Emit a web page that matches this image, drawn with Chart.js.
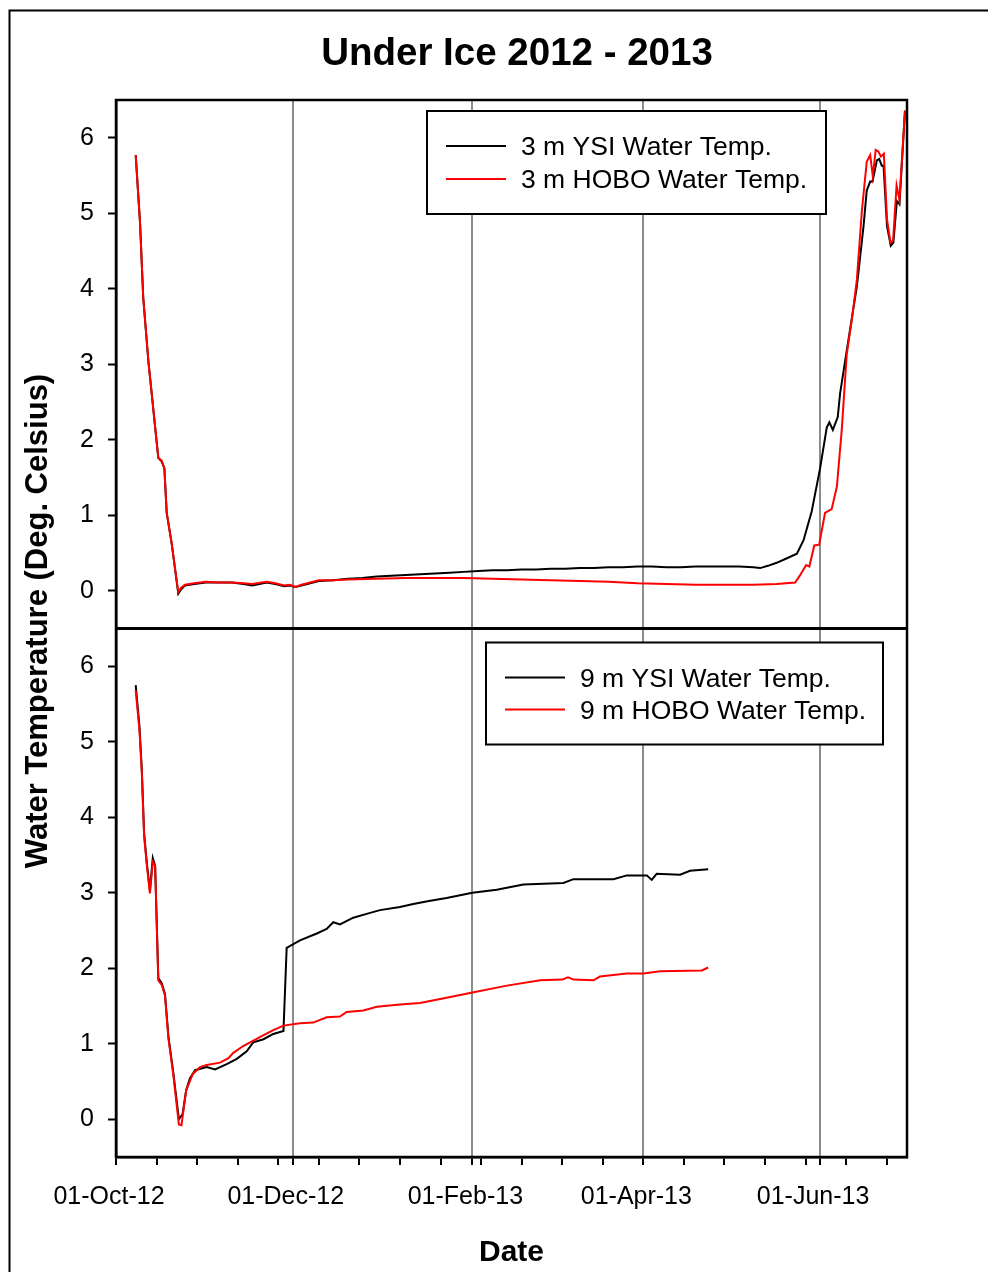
<!DOCTYPE html>
<html>
<head>
<meta charset="utf-8">
<title>Under Ice 2012 - 2013</title>
<script src="https://cdn.jsdelivr.net/npm/chart.js@4.4.1/dist/chart.umd.min.js"></script>
<style>
  html, body { margin: 0; padding: 0; background: #fff; }
  #grafica { display: block; }
</style>
</head>
<body>
<canvas id="grafica" width="988" height="1272"></canvas>
<script>
// Eje X: dias desde el 01-Oct-12
const majorDays = [0, 61, 123, 182, 243];
const majorLabels = ['01-Oct-12', '01-Dec-12', '01-Feb-13', '01-Apr-13', '01-Jun-13'];
const minorStep = 14;
const yTicks = [0, 1, 2, 3, 4, 5, 6];

// 3 m YSI
const ysi3Days = [
  6.8, 8.3, 9.4, 11.2, 14.6, 15.8, 16.7, 17.5, 19.2, 21.5,
  22.5, 23.8, 27, 31, 35, 40, 44, 47, 52, 55,
  58, 60, 62, 64, 67, 70, 75, 80, 85, 90,
  95, 100, 105, 110, 115, 120, 125, 130, 135, 140,
  145, 150, 155, 160, 165, 170, 175, 180, 185, 190,
  195, 200, 205, 210, 215, 220, 222.3, 225, 228, 231,
  235, 237.3, 240.1, 243, 245.3, 246.2, 247.4, 249.1, 249.9, 252.2,
  255.7, 258, 259.1, 260.3, 261.1, 262.6, 263.4, 264.3, 264.9, 266.1,
  267.4, 268.3, 269.5, 270.4, 272.3
];
const ysi3Temp = [
  5.77, 4.87, 3.88, 3.03, 1.76, 1.71, 1.62, 1.03, 0.63, -0.04,
  0.02, 0.07, 0.09, 0.11, 0.11, 0.11, 0.09, 0.07, 0.11, 0.09,
  0.06, 0.07, 0.05, 0.07, 0.10, 0.13, 0.14, 0.16, 0.17, 0.19,
  0.20, 0.21, 0.22, 0.23, 0.24, 0.25, 0.26, 0.27, 0.27, 0.28,
  0.28, 0.29, 0.29, 0.30, 0.30, 0.31, 0.31, 0.32, 0.32, 0.31,
  0.31, 0.32, 0.32, 0.32, 0.32, 0.31, 0.30, 0.33, 0.37, 0.42,
  0.49, 0.67, 1.05, 1.62, 2.16, 2.23, 2.13, 2.30, 2.61, 3.18,
  4.03, 4.83, 5.30, 5.42, 5.42, 5.70, 5.72, 5.63, 5.63, 4.83,
  4.57, 4.61, 5.16, 5.12, 6.36
];

// 3 m HOBO
const hobo3Days = [
  6.8, 8.3, 9.4, 11.2, 14.6, 15.8, 16.7, 17.5, 19.2, 21.5,
  22.5, 23.8, 27, 31, 35, 40, 44, 47, 52, 55,
  58, 60, 62, 64, 67, 70, 75, 80, 90, 100,
  110, 120, 130, 140, 150, 160, 170, 180, 190, 200,
  210, 220, 228, 234.4, 236, 238.2, 239.3, 241, 242.7, 244.7,
  247, 248.8, 250.5, 252.2, 254, 255.7, 257.4, 259.1, 260.3, 261.2,
  262.2, 263.1, 264, 265, 266.1, 267.3, 268.2, 269.4, 270.4, 272.3
];
const hobo3Temp = [
  5.77, 4.87, 3.88, 3.03, 1.76, 1.72, 1.62, 1.03, 0.63, -0.02,
  0.04, 0.08, 0.10, 0.12, 0.11, 0.11, 0.10, 0.09, 0.12, 0.10,
  0.07, 0.08, 0.05, 0.08, 0.11, 0.14, 0.14, 0.15, 0.16, 0.17,
  0.17, 0.17, 0.16, 0.15, 0.14, 0.13, 0.12, 0.10, 0.09, 0.08,
  0.08, 0.08, 0.09, 0.11, 0.20, 0.34, 0.32, 0.60, 0.61, 1.03,
  1.08, 1.38, 2.14, 3.13, 3.60, 4.12, 5.02, 5.68, 5.77, 5.49,
  5.84, 5.82, 5.75, 5.79, 4.92, 4.61, 4.64, 5.37, 5.18, 6.36
];

// 9 m YSI
const ysi9Days = [
  6.8, 8.1, 8.9, 9.7, 10.6, 11.7, 12.7, 13.5, 14.6, 15.8,
  16.9, 18.1, 19.8, 21.7, 23, 24.2, 25.5, 27.3, 31.3, 34.2,
  38.2, 41.7, 45.1, 47.4, 50.9, 54.3, 57.8, 58.9, 63.5, 69.3,
  72.7, 75, 77.3, 81.9, 86.5, 91.1, 98, 102.6, 108, 114.1,
  123, 131.4, 140.6, 154.4, 157.9, 171.7, 176.3, 183.2, 184.9, 186.6,
  194.7, 198.1, 204.4
];
const ysi9Temp = [
  5.75, 5.2, 4.64, 3.79, 3.41, 3.03, 3.46, 3.36, 1.87, 1.80,
  1.66, 1.09, 0.61, 0.00, 0.07, 0.38, 0.54, 0.65, 0.69, 0.66,
  0.73, 0.80, 0.90, 1.02, 1.06, 1.13, 1.17, 2.27, 2.37, 2.46,
  2.52, 2.61, 2.58, 2.67, 2.72, 2.77, 2.81, 2.85, 2.89, 2.93,
  3.00, 3.04, 3.11, 3.13, 3.18, 3.18, 3.23, 3.23, 3.17, 3.25,
  3.24, 3.29, 3.31
];

// 9 m HOBO
const hobo9Days = [
  6.8, 8.1, 8.9, 9.7, 10.6, 11.7, 12.7, 13.5, 14.6, 15.8,
  16.9, 18.1, 19.8, 21.7, 22.6, 24.2, 26.5, 29, 31.3, 35.9,
  38.8, 40.5, 43.9, 47.4, 50.8, 54.3, 57.8, 63.5, 68.1, 72.7,
  77.3, 79.6, 85.4, 90, 98, 104.9, 114.1, 123, 134.9, 146.4,
  154, 156, 158, 164.8, 167, 176.3, 182, 187.8, 202.2, 204.4
];
const hobo9Temp = [
  5.68, 5.15, 4.6, 3.75, 3.38, 2.99, 3.41, 3.36, 1.84, 1.78,
  1.64, 1.07, 0.58, -0.07, -0.08, 0.38, 0.60, 0.69, 0.72, 0.75,
  0.81, 0.88, 0.97, 1.04, 1.11, 1.18, 1.24, 1.27, 1.28, 1.35,
  1.36, 1.42, 1.44, 1.49, 1.52, 1.54, 1.61, 1.68, 1.77, 1.84,
  1.85, 1.88, 1.85, 1.84, 1.89, 1.93, 1.93, 1.96, 1.97, 2.01
];

const puntos = (dias, temps) => dias.map((d, i) => ({ x: d, y: temps[i] }));

// marcas del eje X: mayores (1 de mes) y menores (cada 14 dias)
const xTicks = [];
for (let d = 0; d <= 273; d += minorStep) xTicks.push(d);
majorDays.forEach(d => { if (!xTicks.includes(d)) xTicks.push(d); });
xTicks.sort((a, b) => a - b);

Chart.defaults.font.family = "'Liberation Sans', Arial, sans-serif";
Chart.defaults.color = '#000';

function dibujarLeyenda(ctx, right, top, w, h, textos, gap) {
  const left = right - w;
  ctx.fillStyle = '#fff';
  ctx.fillRect(left, top, w, h);
  ctx.strokeStyle = '#000';
  ctx.lineWidth = 2;
  ctx.strokeRect(left, top, w, h);
  const colores = ['#000', '#ff0000'];
  ctx.font = "26.5px 'Liberation Sans', Arial, sans-serif";
  ctx.textBaseline = 'middle';
  ctx.textAlign = 'left';
  textos.forEach((t, i) => {
    const y = top + 35 + i * gap;
    ctx.strokeStyle = colores[i];
    ctx.lineWidth = 2;
    ctx.beginPath();
    ctx.moveTo(left + 19, y);
    ctx.lineTo(left + 79, y);
    ctx.stroke();
    ctx.fillStyle = '#000';
    ctx.fillText(t, left + 94, y + 2);
  });
}

const decoraciones = {
  id: 'decoraciones',
  afterDatasetsDraw(chart) {
    const ctx = chart.ctx;
    const area = chart.chartArea;
    const yTop = chart.scales.yTop;
    ctx.save();
    // marco de los paneles
    ctx.strokeStyle = '#000';
    ctx.lineWidth = 2.5;
    ctx.strokeRect(area.left, area.top, area.right - area.left, area.bottom - area.top);
    const medio = yTop.bottom;
    ctx.lineWidth = 3;
    ctx.beginPath();
    ctx.moveTo(area.left, medio);
    ctx.lineTo(area.right, medio);
    ctx.stroke();
    // leyendas
    dibujarLeyenda(ctx, area.right - 81, yTop.top + 11, 399, 103,
      ['3 m YSI Water Temp.', '3 m HOBO Water Temp.'], 33);
    dibujarLeyenda(ctx, area.right - 24, medio + 14, 397, 102,
      ['9 m YSI Water Temp.', '9 m HOBO Water Temp.'], 32);
    ctx.restore();
  },
  afterDraw(chart) {
    const ctx = chart.ctx;
    ctx.save();
    // marco exterior
    ctx.strokeStyle = '#000';
    ctx.lineWidth = 2;
    ctx.beginPath();
    ctx.moveTo(9.5, 1272);
    ctx.lineTo(9.5, 10.5);
    ctx.lineTo(988, 10.5);
    ctx.stroke();
    // titulo principal
    ctx.fillStyle = '#000';
    ctx.font = "bold 38.5px 'Liberation Sans', Arial, sans-serif";
    ctx.textAlign = 'center';
    ctx.textBaseline = 'middle';
    ctx.fillText('Under Ice 2012 - 2013', 517, 54);
    // titulo del eje Y (comun a los dos paneles)
    ctx.translate(38, 621);
    ctx.rotate(-Math.PI / 2);
    ctx.font = "bold 31px 'Liberation Sans', Arial, sans-serif";
    ctx.fillText('Water Temperature (Deg. Celsius)', 0, 0);
    ctx.restore();
  }
};

const ejeY = () => ({
  type: 'linear',
  position: 'left',
  stack: 'paneles',
  stackWeight: 1,
  min: -0.5,
  max: 6.5,
  afterBuildTicks: scale => { scale.ticks = yTicks.map(v => ({ value: v })); },
  afterFit: scale => { scale.width = 116; },
  border: { display: true, color: '#000', width: 2.5 },
  grid: { drawOnChartArea: false, drawTicks: true, tickLength: 8, tickColor: '#000', tickWidth: 2 },
  ticks: { font: { size: 25 }, color: '#000', padding: 14, callback: v => String(v) }
});

const ctx = document.getElementById('grafica').getContext('2d');
new Chart(ctx, {
  type: 'line',
  data: {
    datasets: [
      { label: '3 m YSI Water Temp.', data: puntos(ysi3Days, ysi3Temp), yAxisID: 'yTop',
        borderColor: '#000', borderWidth: 2, pointRadius: 0, order: 1 },
      { label: '3 m HOBO Water Temp.', data: puntos(hobo3Days, hobo3Temp), yAxisID: 'yTop',
        borderColor: '#ff0000', borderWidth: 2, pointRadius: 0, order: 0 },
      { label: '9 m YSI Water Temp.', data: puntos(ysi9Days, ysi9Temp), yAxisID: 'yBottom',
        borderColor: '#000', borderWidth: 2, pointRadius: 0, order: 1 },
      { label: '9 m HOBO Water Temp.', data: puntos(hobo9Days, hobo9Temp), yAxisID: 'yBottom',
        borderColor: '#ff0000', borderWidth: 2, pointRadius: 0, order: 0 }
    ]
  },
  options: {
    responsive: false,
    animation: false,
    events: [],
    layout: { padding: { left: 0, right: 81, top: 100, bottom: 0 } },
    plugins: {
      legend: { display: false },
      tooltip: { enabled: false },
      title: { display: false }
    },
    scales: {
      x: {
        type: 'linear',
        min: 0,
        max: 273,
        afterBuildTicks: scale => { scale.ticks = xTicks.map(v => ({ value: v })); },
        afterFit: scale => { scale.height = 115; },
        border: { display: true, color: '#000', width: 2.5 },
        grid: {
          color: c => majorDays.includes(c.tick && c.tick.value) ? 'rgb(140,140,140)' : 'rgba(0,0,0,0)',
          lineWidth: 2,
          tickColor: '#000',
          tickWidth: 2,
          tickLength: 8
        },
        ticks: {
          autoSkip: false,
          maxRotation: 0,
          minRotation: 0,
          font: { size: 25 },
          color: '#000',
          padding: 17,
          labelOffset: -7,
          callback: v => {
            const i = majorDays.indexOf(v);
            return i >= 0 ? majorLabels[i] : '';
          }
        },
        title: {
          display: true,
          text: 'Date',
          color: '#000',
          font: { size: 30, weight: 'bold', lineHeight: 1.2 },
          padding: { top: 0, bottom: 1 }
        }
      },
      // el primer eje de la pila queda abajo
      yBottom: ejeY(),
      yTop: ejeY()
    }
  },
  plugins: [decoraciones]
});
</script>
</body>
</html>
